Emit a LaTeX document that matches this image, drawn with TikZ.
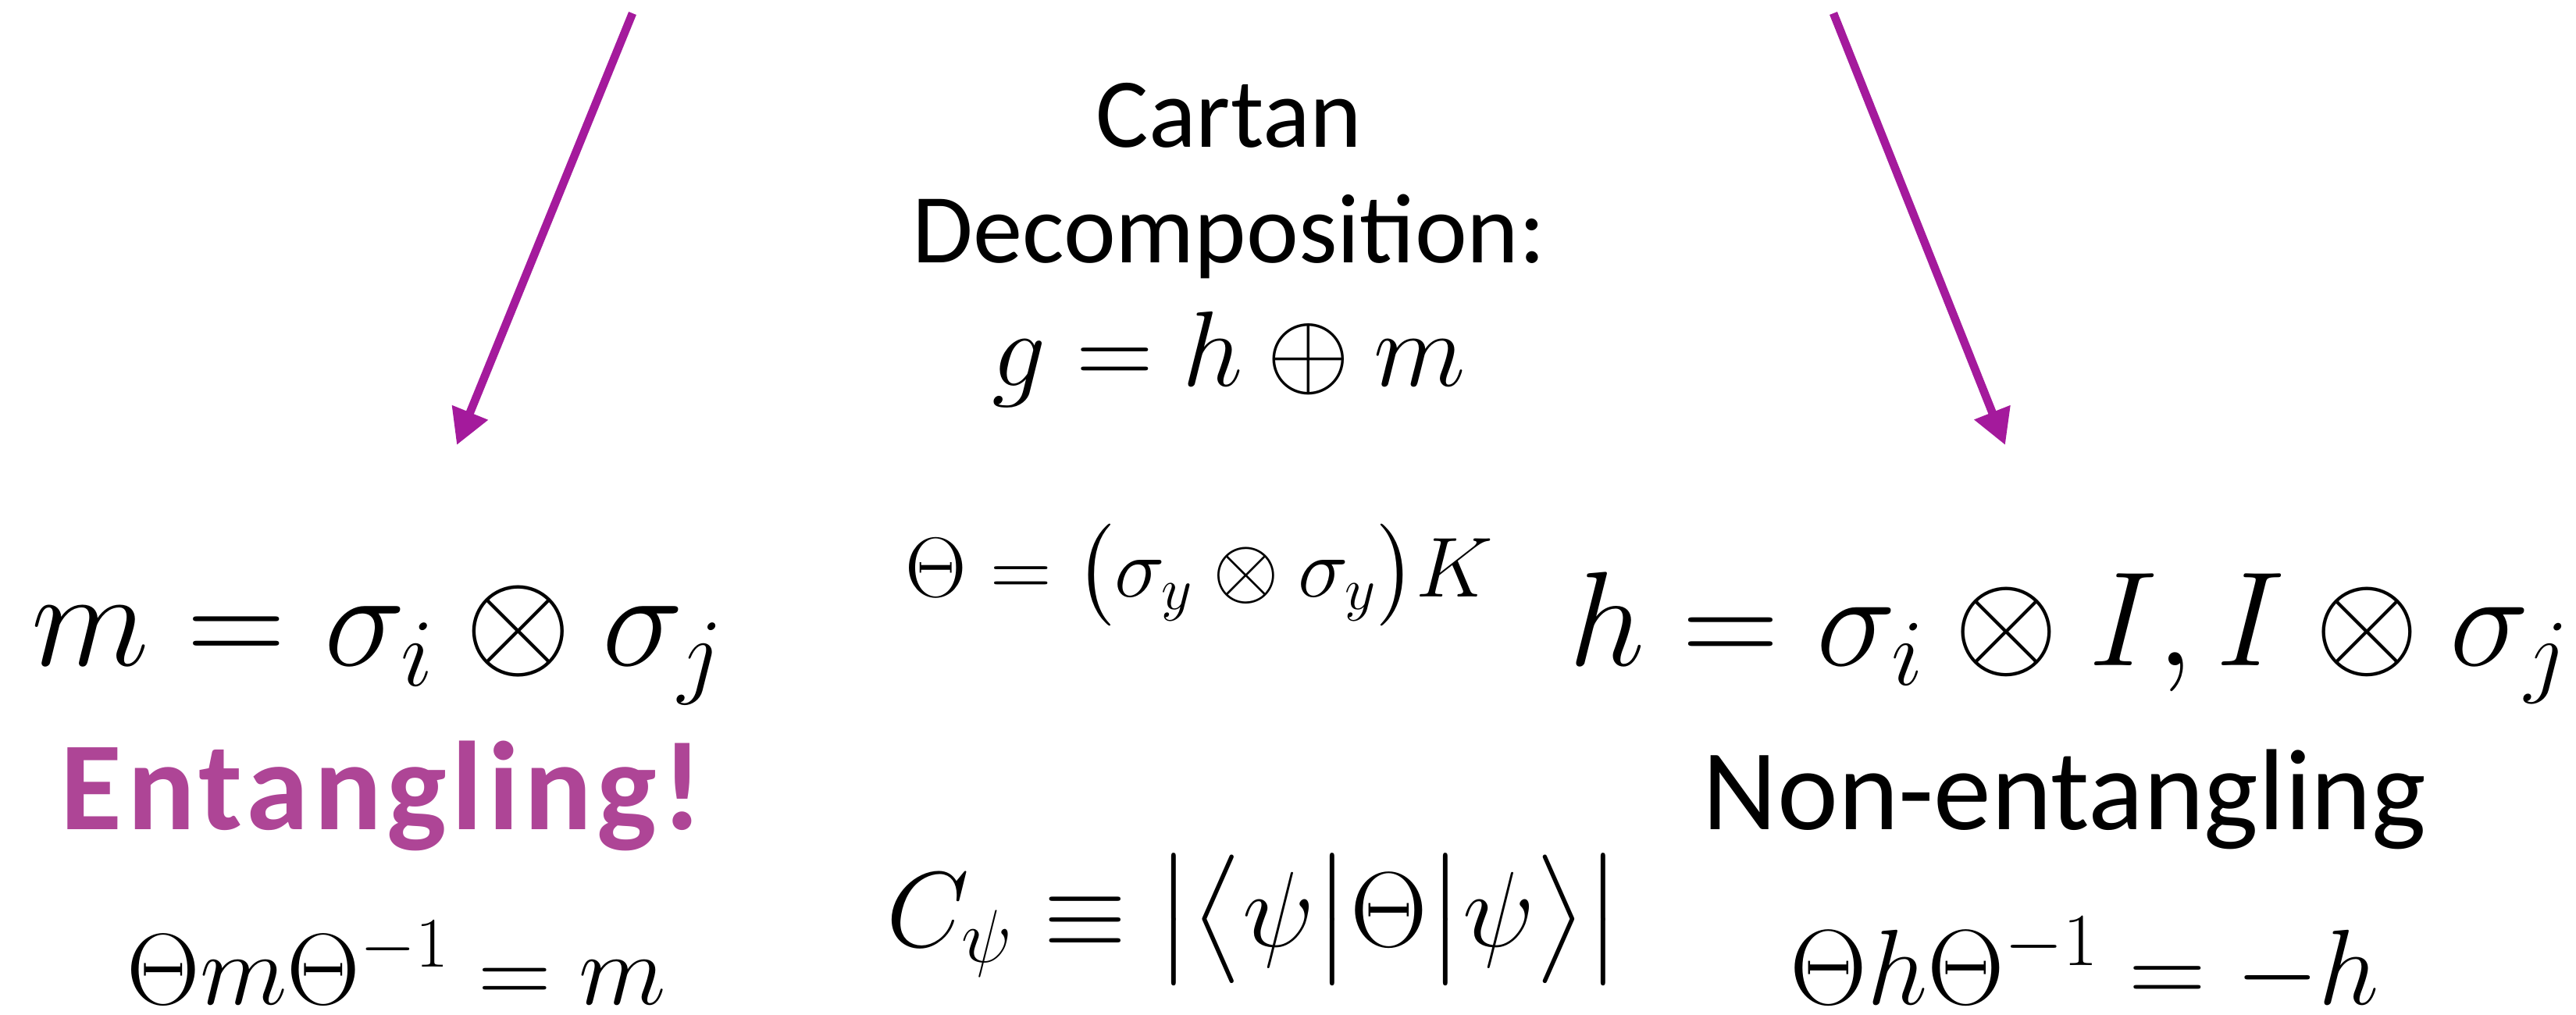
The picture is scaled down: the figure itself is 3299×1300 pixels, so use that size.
\RequirePackage{fix-cm}
\documentclass[tikz,border=0pt]{standalone}
\usepackage{amsmath,amssymb}
\usepackage{fontspec}
\setmainfont{Carlito}
\usepackage{xcolor}
\usepackage{tikz}
\usetikzlibrary{positioning,arrows.meta}

\definecolor{arrowpurple}{RGB}{164,26,156}
\definecolor{entpurple}{RGB}{174,69,150}

\begin{document}
\begin{tikzpicture}[
  x=0.01cm, y=-0.01cm,
  txt/.style={inner sep=0pt, anchor=base, font=\fontsize{36}{42}\selectfont},
  bigtxt/.style={txt, font=\fontsize{42}{50}\selectfont},
  bigmath/.style={txt, font=\fontsize{50}{60}\selectfont},
  midmath/.style={txt, font=\fontsize{39}{46}\selectfont},
  smallmath/.style={txt, font=\fontsize{31}{36}\selectfont},
  flow/.style={draw=arrowpurple, line width=3pt, -{Triangle[length=4.5mm,width=4.7mm]}},
]
\useasboundingbox (0,0) rectangle (3299,1300);

% Centre column
\node[txt] (cartan) at (1574,189) {Cartan};
\node[txt] (decomp) at (1574,337) {Decomposition:};
\node[midmath] (gsum) at (1574,494) {$g = h \oplus m$};
\node[smallmath] (thetadef) at (1536,764) {$\Theta = \bigl(\sigma_y \otimes \sigma_y\bigr) K$};
\node[midmath] (concur) at (1606,1212)
  {$C_\psi \equiv \big|\big\langle\psi\big|\Theta\big|\psi\big\rangle\big|$};

% Left column
\node[bigmath] (mdef) at (484,852) {$m = \sigma_i \otimes \sigma_j$};
\node[bigtxt, font=\fontsize{46}{52}\selectfont\bfseries\addfontfeature{LetterSpace=4}, text=entpurple] (entlabel) at (489,1062) {Entangling!};
\node[midmath, font=\fontsize{37}{44}\selectfont] (mrel) at (508,1286) {$\Theta m \Theta^{-1} = m$};

% Right column
\node[bigmath, font=\fontsize{49}{58}\selectfont] (hdef) at (2650,852) {$h = \sigma_i \otimes I, I \otimes \sigma_j$};
\node[bigtxt] (nonent) at (2644,1062) {Non-entangling};
\node[midmath] (hrel) at (2670,1286) {$\Theta h \Theta^{-1} = -h$};

% Arrows
\coordinate (ltail) at (810,17);
\coordinate (ltip) at (585,570);
\coordinate (rtail) at (2348,17);
\coordinate (rtip) at (2568,570);
\draw[flow] (ltail) -- (ltip);
\draw[flow] (rtail) -- (rtip);

\end{tikzpicture}
\end{document}
